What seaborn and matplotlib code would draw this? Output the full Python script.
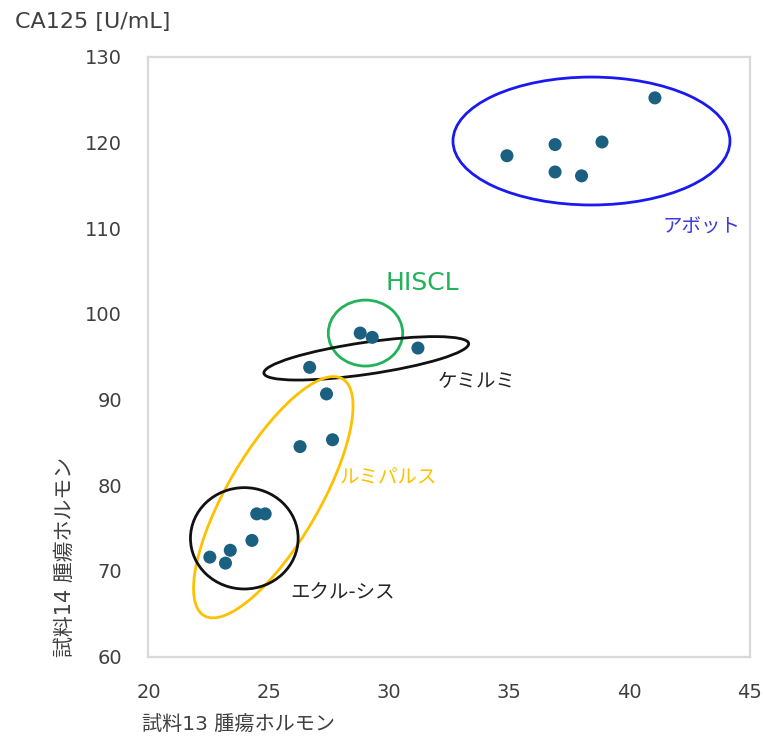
import numpy as np
import pandas as pd
import matplotlib.pyplot as plt
import seaborn as sns
from matplotlib.patches import Ellipse

# 試料13 / 試料14 の測定値 (読み取り値)
x_vals = [41.05, 34.9, 36.9, 38.85, 36.9, 38.0,
          28.8, 29.3, 31.2, 26.7, 27.4, 26.3, 27.65,
          24.5, 24.85, 24.3, 23.4, 22.55, 23.2]
y_vals = [125.2, 118.45, 119.75, 120.05, 116.55, 116.1,
          97.75, 97.25, 96.0, 93.75, 90.65, 84.5, 85.3,
          76.65, 76.65, 73.55, 72.4, 71.6, 70.9]

x_ticks = [20, 25, 30, 35, 40, 45]
y_ticks = [60, 70, 80, 90, 100, 110, 120, 130]

x_label = "試料13 腫瘍ホルモン"
y_label = "試料14 腫瘍ホルモン"
unit_label = "CA125 [U/mL]"

data = pd.DataFrame({"x": x_vals, "y": y_vals})

sns.set_theme(style="white")
plt.rcParams["font.family"] = ["DejaVu Sans", "Noto Sans CJK JP"]

fig = plt.figure(figsize=(7.63, 7.38), dpi=100)
ax = fig.add_axes([0.1946, 0.1104, 0.7883, 0.8127])

sns.scatterplot(data=data, x="x", y="y", ax=ax, s=88, color="#1b6080",
                edgecolor="none", linewidth=0, zorder=3)

ax.set_xlim(20, 45)
ax.set_ylim(60, 130)
ax.set_xticks(x_ticks)
ax.set_yticks(y_ticks)
ax.tick_params(axis="both", length=0, labelsize=14, colors="#404040", pad=19)
ax.set_xlabel("")
ax.set_ylabel("")
for sp in ax.spines.values():
    sp.set_color("#d9d9d9")
    sp.set_linewidth(1.6)

##囲み線 (軸座標で指定)
rings = [
    # (中心x, 中心y, 幅, 高さ, 角度, 色)
    (0.7365, 0.8595, 0.4605, 0.2133, 0, "#1a1af0"),
    (0.3608, 0.5393, 0.1237, 0.1100, 0, "#22b25a"),
    (0.3621, 0.4972, 0.3440, 0.0533, 8.3, "#111111"),
    (0.2075, 0.2656, 0.4570, 0.1530, 59.8, "#ffc000"),
    (0.1593, 0.1971, 0.1790, 0.1690, 0, "#111111"),
]
for cx, cy, w, h, ang, col in rings:
    ax.add_patch(Ellipse((cx, cy), w, h, angle=ang, transform=ax.transAxes,
                         fill=False, edgecolor=col, linewidth=2.0, zorder=2))

##グループ名
ax.text(0.919, 0.716, "アボット", transform=ax.transAxes, fontsize=14,
        color="#3a3ae0", ha="center", va="center")
ax.text(0.4547, 0.6227, "HISCL", transform=ax.transAxes, fontsize=18,
        color="#22b25a", ha="center", va="center")
ax.text(0.4817, 0.4577, "ケミルミ", transform=ax.transAxes, fontsize=14,
        color="#262626", ha="left", va="center")
ax.text(0.3184, 0.2975, "ルミパルス", transform=ax.transAxes, fontsize=14,
        color="#ffc000", ha="left", va="center")
ax.text(0.2352, 0.1058, "エクル-シス", transform=ax.transAxes, fontsize=14,
        color="#262626", ha="left", va="center")

##軸ラベル
fig.text(15 / 763, 1 - 22 / 738, unit_label, fontsize=16, color="#404040",
         ha="left", va="center")
fig.text(65 / 763, 1 - 557 / 738, y_label, fontsize=15, color="#404040",
         rotation=90, ha="center", va="center")
fig.text(238.5 / 763, 1 - 725 / 738, x_label, fontsize=14.5, color="#404040",
         ha="center", va="center")

plt.savefig("out.png", dpi=100)
